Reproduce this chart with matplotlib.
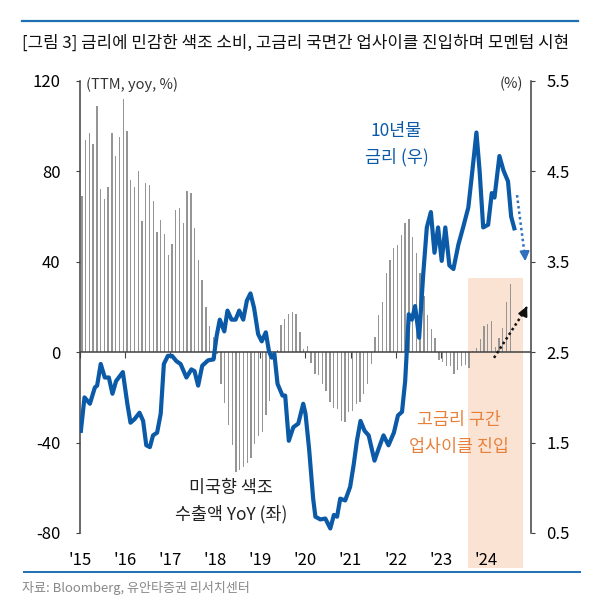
import numpy as np
import matplotlib
matplotlib.use("Agg")
import matplotlib.pyplot as plt
from matplotlib.patches import Rectangle
from matplotlib.lines import Line2D

plt.rcParams['font.family'] = ['Noto Sans CJK KR', 'DejaVu Sans']

# 미국향 색조 수출액 YoY (TTM, %), monthly from 2015-01
bars_yoy = [
    69, 94, 97, 92, 109, 72, 68, 73, 97, 87, 95, 112,
    98, 76, 73, 80, 58, 75, 74, 67, 53, 58.5, 52.5, 43,
    48, 63, 64, 57, 71.5, 70.5, 55, 41, 32, 20, 11.5, 6.5,
    -1, -14, -22.5, -32, -41, -53, -52, -50.6, -49, -47, -40.6, -37,
    -35.5, -28, -21.5, -2, 1, 12, 14.6, 17, 18, 17, 9, 1.5,
    2.8, -4.6, -9.8, -10.3, -14, -17, -22, -24.5, -25, -30.3, -31, -26.6,
    -26, -23, -22, -18.5, -14, -5.3, 6.7, 16.3, 22, 35, 41, 46,
    47.5, 52, 57, 59, 51, 44, 35, 25, 16.3, 10.4, 6.3, -3.4,
    -4.5, -6, -6.2, -9.7, -7.8, -6, -5.5, -7, 0.5, 1.8, 6, 11.8,
    12.3, 13.8, 2.5, 6.3, 10.9, 22, 30.3,
]

# 미 10년물 금리 (%) (decimal year, value)
ust_t = [
    2015.02, 2015.10, 2015.22, 2015.33, 2015.38, 2015.46, 2015.55, 2015.64, 2015.72, 2015.80,
    2015.95, 2016.05, 2016.12, 2016.21, 2016.32, 2016.40, 2016.47, 2016.55, 2016.62, 2016.71,
    2016.79, 2016.86, 2016.95, 2017.04, 2017.14, 2017.23, 2017.36, 2017.47, 2017.54, 2017.62,
    2017.71, 2017.84, 2017.96, 2018.03, 2018.10, 2018.20, 2018.27, 2018.36, 2018.45, 2018.53,
    2018.62, 2018.70, 2018.78, 2018.86, 2018.95, 2019.03, 2019.12, 2019.19, 2019.25, 2019.31,
    2019.38, 2019.49, 2019.55, 2019.63, 2019.73, 2019.84, 2019.95, 2020.00, 2020.08, 2020.17,
    2020.22, 2020.33, 2020.44, 2020.55, 2020.63, 2020.70, 2020.77, 2020.88, 2020.99, 2021.07,
    2021.14, 2021.22, 2021.31, 2021.40, 2021.53, 2021.62, 2021.73, 2021.84, 2021.96, 2022.05,
    2022.14, 2022.21, 2022.29, 2022.36, 2022.43, 2022.52, 2022.61, 2022.69, 2022.78, 2022.86,
    2022.94, 2023.02, 2023.10, 2023.19, 2023.28, 2023.39, 2023.50, 2023.61, 2023.69, 2023.79,
    2023.86, 2023.94, 2024.05, 2024.13, 2024.19, 2024.30, 2024.39, 2024.49, 2024.56, 2024.63,
]
ust_10y = [
    1.63, 2.00, 1.93, 2.11, 2.13, 2.37, 2.22, 2.22, 2.04, 2.18,
    2.28, 1.93, 1.72, 1.76, 1.83, 1.74, 1.47, 1.45, 1.58, 1.61,
    1.82, 2.37, 2.46, 2.46, 2.40, 2.37, 2.22, 2.31, 2.29, 2.13,
    2.35, 2.41, 2.42, 2.68, 2.86, 2.73, 2.96, 2.86, 2.86, 2.96,
    2.86, 3.07, 3.15, 2.99, 2.70, 2.62, 2.72, 2.51, 2.44, 2.48,
    2.15, 2.02, 2.02, 1.52, 1.67, 1.71, 1.93, 1.82, 1.43, 0.88,
    0.68, 0.65, 0.66, 0.55, 0.70, 0.68, 0.88, 0.86, 1.01, 1.26,
    1.52, 1.74, 1.63, 1.58, 1.30, 1.43, 1.58, 1.47, 1.61, 1.80,
    1.84, 2.18, 2.92, 2.86, 3.01, 2.66, 3.36, 3.88, 4.05, 3.60,
    3.88, 3.51, 3.88, 3.46, 3.42, 3.69, 3.89, 4.10, 4.46, 4.93,
    4.51, 3.88, 3.91, 4.26, 4.21, 4.67, 4.51, 4.39, 4.00, 3.87,
]

year_ticks = list(range(2015, 2025))
year_labels = ["'%02d" % (y % 100) for y in year_ticks]
left_ticks = [-80, -40, 0, 40, 80, 120]
right_ticks = [0.5, 1.5, 2.5, 3.5, 4.5, 5.5]

BLUE = '#0b5aa8'
ORANGE = '#e8803a'
DARK = '#404040'

fig = plt.figure(figsize=(6, 6.03), dpi=100)
ax = fig.add_axes([0.1333, 0.1161, 0.7517, 0.7496])
ax.set_xlim(2015, 2025)
ax.set_ylim(-80, 120)

# shaded 고금리 zone (runs below the axes down to the footer line)
ax.add_patch(Rectangle((2023.6, -95.7), 1.22, 128.7, facecolor='#fbe3d4',
                       edgecolor='none', zorder=0.5, clip_on=False))

bx = 2015 + (np.arange(len(bars_yoy)) + 0.5) / 12
ax.bar(bx, bars_yoy, width=0.03, color='#959595', zorder=2)
ax.axhline(0, color=DARK, lw=1.1, zorder=3)

for s in ['top', 'bottom', 'right']:
    ax.spines[s].set_visible(False)
ax.spines['left'].set_color(DARK)
ax.spines['left'].set_linewidth(1.1)
ax.set_yticks(left_ticks)
ax.set_yticklabels([str(v) for v in left_ticks])
ax.tick_params(axis='y', direction='out', length=3, color=DARK, labelsize=12, pad=11)
ax.set_xticks(year_ticks)
ax.set_xticklabels(year_labels)
ax.tick_params(axis='x', length=0, labelsize=12, pad=14)

# tick marks on the zero line
sec = ax.secondary_xaxis(0.4)
sec.set_xticks(year_ticks)
sec.set_xticklabels([])
sec.tick_params(axis='x', direction='out', length=4, color=DARK)
sec.spines['bottom'].set_visible(False)

ax2 = ax.twinx()
ax2.set_ylim(0.5, 5.5)
ax2.plot(ust_t, ust_10y, color=BLUE, lw=3, solid_joinstyle='round', zorder=5)
for s in ['top', 'bottom', 'left']:
    ax2.spines[s].set_visible(False)
ax2.spines['right'].set_color(DARK)
ax2.spines['right'].set_linewidth(1.1)
ax2.set_yticks(right_ticks)
ax2.set_yticklabels(['%.1f' % v for v in right_ticks])
ax2.tick_params(axis='y', direction='out', length=3, color=DARK, labelsize=12, pad=8)

# arrows
ax.plot([2024.69, 2024.86], [69.5, 43], color='#2f6fbd', lw=1.8, ls=(0, (1, 1.2)), zorder=6)
ax.annotate('', xy=(2024.875, 39), xytext=(2024.86, 44),
            arrowprops=dict(arrowstyle='-|>', color='#2f6fbd', lw=1.5, mutation_scale=14))
ax.plot([2024.18, 2024.88], [-2.5, 19], color='#111111', lw=1.8, ls=(0, (1, 1.2)), zorder=6)
ax.annotate('', xy=(2024.94, 21.5), xytext=(2024.87, 18.5),
            arrowprops=dict(arrowstyle='-|>', color='#111111', lw=1.5, mutation_scale=14))

# annotations
ax.text(2015.13, 118.5, '(TTM, yoy, %)', fontsize=10.5, color='#333333', va='center', ha='left')
ax.text(2024.82, 118.5, '(%)', fontsize=10.5, color='#333333', va='center', ha='right')
ax.text(2022.02, 92, '10년물\n금리 (우)', fontsize=12.5, color=BLUE, ha='center', va='center',
        linespacing=1.6)
ax.text(2018.35, -66, '미국향 색조\n수출액 YoY (좌)', fontsize=12.5, color='#222222',
        ha='center', va='center', linespacing=1.6)
ax.text(2023.4, -36, '고금리 구간\n업사이클 진입', fontsize=12.5, color=ORANGE,
        ha='center', va='center', linespacing=1.6)

# title, frame lines, source
fig.add_artist(Line2D([0.037, 0.963], [0.965, 0.965], color='#1f6fb2', lw=1.6))
fig.text(0.037, 0.928, '[그림 3] 금리에 민감한 색조 소비, 고금리 국면간 업사이클 진입하며 모멘텀 시현',
         fontsize=12.1, color='#111111', ha='left', va='center')
fig.add_artist(Line2D([0.04, 0.967], [0.052, 0.052], color='#1f6fb2', lw=1.4))
fig.text(0.037, 0.025, '자료: Bloomberg, 유안타증권 리서치센터', fontsize=9.4, color='#888888',
         ha='left', va='center')

fig.savefig('out.png', dpi=100, facecolor='white')
